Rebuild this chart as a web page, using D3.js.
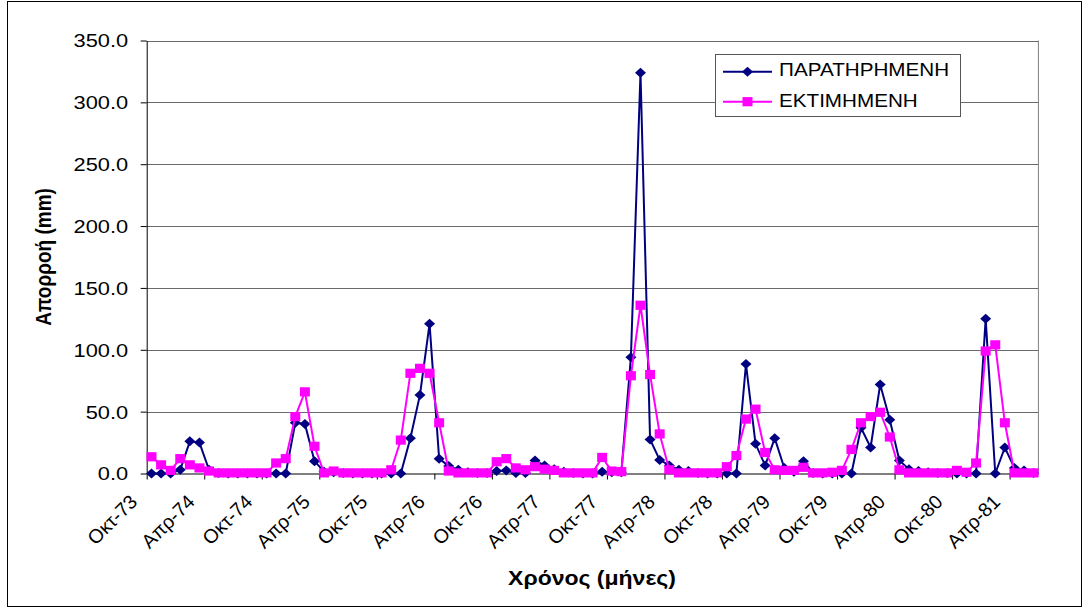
<!DOCTYPE html>
<html>
<head>
<meta charset="utf-8">
<script src="https://cdn.jsdelivr.net/npm/d3@7"></script>
<style>
  body { margin: 0; background: #fff; }
  svg { display: block; }
  text { font-family: Arial, "Liberation Sans", sans-serif; fill: #000; }
</style>
</head>
<body>
<svg id="chart" width="1088" height="612"></svg>
<script>
// Monthly runoff, October 1973 – June 1981
const monthNames = ["Ιαν", "Φεβ", "Μαρ", "Απρ", "Μαϊ", "Ιουν", "Ιουλ", "Αυγ", "Σεπ", "Οκτ", "Νοε", "Δεκ"];
const firstMonth = 9;   // Οκτ
const firstYear = 73;
const monthCount = 93;
const categories = d3.range(monthCount).map(i =>
  monthNames[(firstMonth + i) % 12] + "-" + (firstYear + Math.floor((firstMonth + i) / 12)));

// Observed runoff (mm)
const observed = [
  0, 0, 0, 3, 26, 25, 3, 0.5, 0, 0, 0, 0,
  0, 0, 0, 41, 40, 10, 1.5, 1, 0.5, 0, 0, 0,
  0, 0, 0, 28.5, 63.5, 121, 12, 6, 3, 1, 0.5, 0.5,
  2, 2.5, 0.5, 0.5, 10.5, 6.5, 3.5, 1.5, 0.5, 0, 0, 1.5,
  1, 1, 94, 324, 27.5, 11, 6.5, 3, 2, 0.5, 0, 0,
  0, 0, 88.5, 24, 6.5, 28.5, 4.5, 1.5, 10, 0.5, 0, 0,
  0, 0, 37, 21, 72, 43.5, 10.5, 3.5, 2, 1, 0.5, 0.5,
  0, 0, 0, 125, 0, 21, 4.5, 2.5, 0.5
];

// Estimated runoff (mm)
const estimated = [
  13.5, 7, 2.5, 12, 7, 4.5, 2, 0.5, 0.5, 0.5, 0.5, 0.5,
  0.5, 8.5, 12, 46, 66, 22, 0.5, 2, 0.5, 0.5, 0.5, 0.5,
  0.5, 3, 27, 81, 85, 81, 41, 2, 0.5, 0.5, 0.5, 0.5,
  9.5, 12, 4.5, 3, 5.5, 3.5, 2.5, 0.5, 0.5, 0.5, 0.5, 13,
  2, 1.5, 79, 136, 80, 32, 3, 0.5, 0.5, 0.5, 0.5, 0.5,
  5.5, 14.5, 44, 52, 17, 3, 2.5, 2.5, 5, 0.5, 0.5, 1,
  2.5, 19.5, 41, 46, 49.5, 29.5, 3, 0.5, 0.5, 0.5, 0.5, 0.5,
  2.5, 1, 8.5, 99, 104, 41, 0.5, 0.5, 0.5
];

const yTicks = [0, 50, 100, 150, 200, 250, 300, 350];
const labelStep = 6;
const seriesNames = ["ΠΑΡΑΤΗΡΗΜΕΝΗ", "ΕΚΤΙΜΗΜΕΝΗ"];
const yTitle = "Απορροή (mm)";
const xTitle = "Χρόνος (μήνες)";

// ---- layout & style ----
const plot = { left: 146.7, right: 1038.4, top: 40.5, bottom: 473.5 };
const SX = 1.18;                      // horizontal text stretch
const colors = ["#000080", "#FF00FF"];
const shapes = ["diamond", "square"];

const svg = d3.select("#chart");

// chart frame
svg.append("rect")
  .attr("x", 7.5).attr("y", 1.5).attr("width", 1074).attr("height", 605)
  .attr("fill", "#fff").attr("stroke", "#000").attr("stroke-width", 1);

const x = d3.scaleBand().domain(d3.range(monthCount)).range([plot.left, plot.right]).padding(0);
const xc = i => x(i) + x.bandwidth() / 2;
const xb = d3.scaleLinear().domain([0, monthCount]).range([plot.left, plot.right]);
const y = d3.scaleLinear().domain([0, 350]).range([plot.bottom, plot.top]);

// gridlines
svg.append("g").selectAll("line")
  .data(yTicks.filter(t => t > 0))
  .join("line")
  .attr("x1", plot.left).attr("x2", plot.right)
  .attr("y1", d => Math.round(y(d)) + 0.5).attr("y2", d => Math.round(y(d)) + 0.5)
  .attr("stroke", "#6a6a6a").attr("stroke-width", 1);

// plot area right edge
svg.append("line")
  .attr("x1", plot.right).attr("x2", plot.right)
  .attr("y1", plot.top).attr("y2", plot.bottom)
  .attr("stroke", "#808080").attr("stroke-width", 1);

// y axis
const yAxis = svg.append("g")
  .attr("transform", `translate(${plot.left},0)`)
  .call(d3.axisLeft(y).tickValues(yTicks).tickSize(6).tickSizeOuter(0).tickFormat(d3.format(".1f")));
yAxis.select(".domain").attr("stroke", "#000");
yAxis.selectAll(".tick line").attr("stroke", "#000");
yAxis.selectAll(".tick text")
  .attr("x", null).attr("dy", "0.35em")
  .attr("transform", `translate(-18.5,0) scale(${SX},1)`)
  .attr("font-size", "18.5px").attr("font-family", "Arial, 'Liberation Sans', sans-serif")
  .attr("fill", "#000");

// x axis (tick marks at category boundaries)
const xAxis = svg.append("g")
  .attr("transform", `translate(0,${plot.bottom})`)
  .call(d3.axisBottom(xb).tickValues(d3.range(0, monthCount, labelStep)).tickSize(6).tickSizeOuter(0).tickFormat(""));
xAxis.select(".domain").attr("stroke", "#000");
xAxis.selectAll(".tick line").attr("stroke", "#000");

// x category labels, rotated 45°
svg.append("g").selectAll("text")
  .data(d3.range(0, monthCount, labelStep))
  .join("text")
  .attr("transform", i => `translate(${xc(i) - 13},503) rotate(-45)`)
  .attr("text-anchor", "end")
  .attr("font-size", "19.5px")
  .text(i => categories[i]);

// series
const seriesData = [observed, estimated];
const line = d3.line().x((d, i) => xc(i)).y(d => y(d));

function markerPath(shape) {
  if (shape === "diamond") {
    const hw = 5.5, hh = 5;
    return `M0,${-hh}L${hw},0L0,${hh}L${-hw},0Z`;
  }
  const hw = 5, hh = 4.6;
  return `M${-hw},${-hh}H${hw}V${hh}H${-hw}Z`;
}

seriesData.forEach((vals, s) => {
  const g = svg.append("g");
  g.append("path")
    .datum(vals)
    .attr("d", line)
    .attr("fill", "none")
    .attr("stroke", colors[s])
    .attr("stroke-width", 2);
  g.selectAll("path.m")
    .data(vals)
    .join("path")
    .attr("class", "m")
    .attr("transform", (d, i) => `translate(${xc(i)},${y(d)})`)
    .attr("d", markerPath(shapes[s]))
    .attr("fill", colors[s]);
});

// legend
const lg = svg.append("g");
lg.append("rect")
  .attr("x", 715.5).attr("y", 54.5).attr("width", 245).attr("height", 62)
  .attr("fill", "#fff").attr("stroke", "#555");
seriesNames.forEach((name, s) => {
  const ly = 71.7 + s * 30;
  lg.append("line").attr("x1", 723).attr("x2", 772).attr("y1", ly).attr("y2", ly)
    .attr("stroke", colors[s]).attr("stroke-width", 2);
  lg.append("path").attr("transform", `translate(747.5,${ly})`)
    .attr("d", markerPath(shapes[s])).attr("fill", colors[s]);
  lg.append("text")
    .attr("transform", `translate(779,${ly + 4.5 + s * 0.5}) scale(${SX},1)`)
    .attr("font-size", "17.5px")
    .text(name);
});

// axis titles
svg.append("text")
  .attr("transform", `translate(592,585) scale(${SX},1)`)
  .attr("text-anchor", "middle")
  .attr("font-size", "19.5px").attr("font-weight", "bold")
  .text(xTitle);

svg.append("text")
  .attr("transform", `translate(51,${(plot.top + plot.bottom) / 2}) scale(${SX},1) rotate(-90)`)
  .attr("text-anchor", "middle")
  .attr("font-size", "19px").attr("font-weight", "bold")
  .text(yTitle);
</script>
</body>
</html>
